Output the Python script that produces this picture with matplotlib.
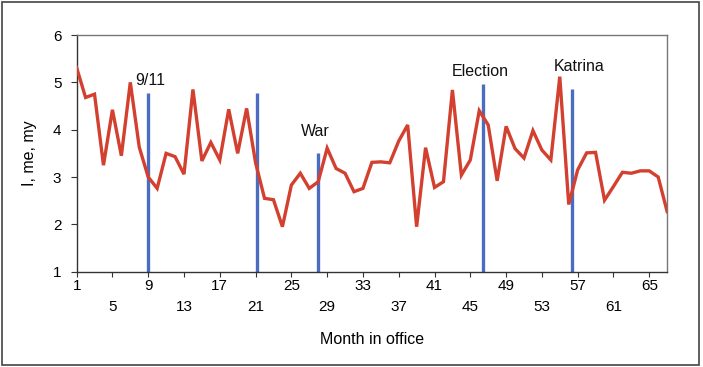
import numpy as np
import matplotlib
matplotlib.use('Agg')
import matplotlib.pyplot as plt
from matplotlib.patches import Rectangle

plt.rcParams['font.family'] = ['Liberation Sans', 'DejaVu Sans']

# monthly "I, me, my" rate, months 1..67
months = np.arange(1, 68)
rate = [5.31, 4.68, 4.75, 3.25, 4.42, 3.45, 5.00, 3.63, 3.00, 2.76,
        3.50, 3.43, 3.06, 4.85, 3.34, 3.73, 3.36, 4.43, 3.50, 4.45,
        3.30, 2.55, 2.52, 1.95, 2.83, 3.08, 2.76, 2.90, 3.61, 3.18,
        3.08, 2.69, 2.76, 3.31, 3.32, 3.30, 3.76, 4.10, 1.95, 3.62,
        2.78, 2.90, 4.84, 3.04, 3.36, 4.40, 4.10, 2.92, 4.07, 3.60,
        3.40, 3.98, 3.57, 3.36, 5.12, 2.42, 3.15, 3.51, 3.52, 2.51,
        2.80, 3.10, 3.08, 3.13, 3.13, 3.00, 2.27]

# event markers
event_month = [9, 21.2, 28, 46.45, 56.4]
event_top = [4.78, 4.78, 3.5, 4.97, 4.87]
event_names = ['9/11', None, 'War', 'Election', 'Katrina']
label_pos = [(9.2, 5.03), None, (27.7, 3.97), (46.1, 5.23), (57.2, 5.33)]

red = '#D3402F'
blue = '#4B6DBF'

fig = plt.figure(figsize=(7.03, 3.67), dpi=100)
ax = fig.add_axes([0.109, 0.2597, 0.949 - 0.109, 0.9046 - 0.2597])

for m, top in zip(event_month, event_top):
    ax.vlines(m, 1, top, color=blue, linewidth=2.4, zorder=2)

ax.plot(months, rate, color=red, linewidth=2.4, zorder=3,
        solid_joinstyle='miter')

for name, pos in zip(event_names, label_pos):
    if name:
        ax.text(pos[0], pos[1], name, ha='center', va='center',
                fontsize=11.5, color='#111111', zorder=4)

ax.set_xlim(1, 67)
ax.set_ylim(1, 6)
ax.set_yticks(range(1, 7))

ax.set_xticks(np.arange(1, 66, 8))
ax.set_xticks(np.arange(5, 66, 8), minor=True)
ax.set_xticklabels([str(v) for v in np.arange(1, 66, 8)])
ax.set_xticklabels([str(v) for v in np.arange(5, 66, 8)], minor=True)

ax.tick_params(axis='x', which='major', length=3.5, width=0.8,
               pad=2.0, labelsize=11, color='#333333')
ax.tick_params(axis='x', which='minor', length=3.5, width=0.8,
               pad=17.0, labelsize=11, color='#333333')
ax.tick_params(axis='y', length=4, width=0.8, pad=7,
               labelsize=11, color='#333333')

for s in ['left', 'bottom']:
    ax.spines[s].set_color('#333333')
    ax.spines[s].set_linewidth(1.0)
for s in ['top', 'right']:
    ax.spines[s].set_color('#777777')
    ax.spines[s].set_linewidth(1.0)

ax.set_xlabel('Month in office', fontsize=11.5, labelpad=0)
ax.xaxis.set_label_coords(0.5, (271.7 - 332) / (271.7 - 35))
ax.set_ylabel('I, me, my', fontsize=11.5)
ax.yaxis.set_label_coords((37 - 76.7) / (667 - 76.7), 0.5)

# frame round the whole figure
fig.patches.append(Rectangle((2 / 703, 2 / 367), 697 / 703, 363 / 367,
                             transform=fig.transFigure, fill=False,
                             edgecolor='#444444', linewidth=1.2))

fig.savefig('out.png', dpi=100)
